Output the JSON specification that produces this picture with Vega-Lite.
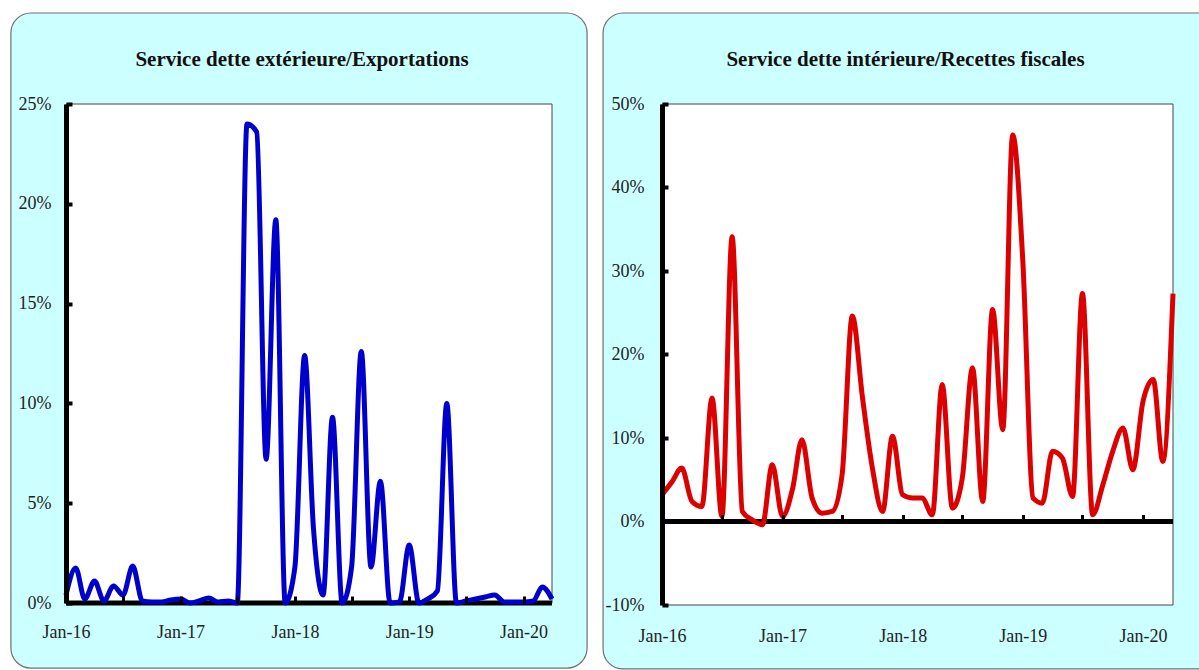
{
  "$schema": "https://vega.github.io/schema/vega-lite/v6.json",
  "background": "white",
  "padding": {"left": 10, "top": 12, "right": 0, "bottom": 0},
  "spacing": 14,
  "config": {"view": {"stroke": null}, "axis": {"labelFont": "Liberation Serif", "titleFont": "Liberation Serif", "grid": false}},
  "datasets": {
    "ext": [
      {"date": "2016-01-01", "v": 0.004}, {"date": "2016-02-01", "v": 0.0175}, {"date": "2016-03-01", "v": 0.002}, {"date": "2016-04-01", "v": 0.011},
      {"date": "2016-05-01", "v": 0.001}, {"date": "2016-06-01", "v": 0.0085}, {"date": "2016-07-01", "v": 0.004}, {"date": "2016-08-01", "v": 0.0185},
      {"date": "2016-09-01", "v": 0.001}, {"date": "2016-10-01", "v": 0.0005}, {"date": "2016-11-01", "v": 0.0005}, {"date": "2016-12-01", "v": 0.0015},
      {"date": "2017-01-01", "v": 0.002}, {"date": "2017-02-01", "v": 0.0}, {"date": "2017-03-01", "v": 0.001}, {"date": "2017-04-01", "v": 0.0025},
      {"date": "2017-05-01", "v": 0.0005}, {"date": "2017-06-01", "v": 0.001}, {"date": "2017-07-01", "v": 0.0}, {"date": "2017-08-01", "v": 0.24},
      {"date": "2017-09-01", "v": 0.236}, {"date": "2017-10-01", "v": 0.072}, {"date": "2017-11-01", "v": 0.192}, {"date": "2017-12-01", "v": 0.0},
      {"date": "2018-01-01", "v": 0.018}, {"date": "2018-02-01", "v": 0.124}, {"date": "2018-03-01", "v": 0.038}, {"date": "2018-04-01", "v": 0.004},
      {"date": "2018-05-01", "v": 0.093}, {"date": "2018-06-01", "v": 0.0}, {"date": "2018-07-01", "v": 0.018}, {"date": "2018-08-01", "v": 0.126},
      {"date": "2018-09-01", "v": 0.018}, {"date": "2018-10-01", "v": 0.061}, {"date": "2018-11-01", "v": 0.0}, {"date": "2018-12-01", "v": 0.0005},
      {"date": "2019-01-01", "v": 0.029}, {"date": "2019-02-01", "v": 0.0}, {"date": "2019-03-01", "v": 0.002}, {"date": "2019-04-01", "v": 0.006},
      {"date": "2019-05-01", "v": 0.1}, {"date": "2019-06-01", "v": 0.0}, {"date": "2019-07-01", "v": 0.001}, {"date": "2019-08-01", "v": 0.002},
      {"date": "2019-09-01", "v": 0.003}, {"date": "2019-10-01", "v": 0.004}, {"date": "2019-11-01", "v": 0.0005}, {"date": "2019-12-01", "v": 0.0005},
      {"date": "2020-01-01", "v": 0.0005}, {"date": "2020-02-01", "v": 0.001}, {"date": "2020-03-01", "v": 0.008}, {"date": "2020-04-01", "v": 0.002}
    ],
    "int": [
      {"date": "2016-01-01", "v": 0.032}, {"date": "2016-02-01", "v": 0.048}, {"date": "2016-03-01", "v": 0.064}, {"date": "2016-04-01", "v": 0.024},
      {"date": "2016-05-01", "v": 0.018}, {"date": "2016-06-01", "v": 0.148}, {"date": "2016-07-01", "v": 0.006}, {"date": "2016-08-01", "v": 0.341},
      {"date": "2016-09-01", "v": 0.012}, {"date": "2016-10-01", "v": 0.002}, {"date": "2016-11-01", "v": -0.004}, {"date": "2016-12-01", "v": 0.068},
      {"date": "2017-01-01", "v": 0.006}, {"date": "2017-02-01", "v": 0.04}, {"date": "2017-03-01", "v": 0.098}, {"date": "2017-04-01", "v": 0.028},
      {"date": "2017-05-01", "v": 0.01}, {"date": "2017-06-01", "v": 0.012}, {"date": "2017-07-01", "v": 0.056}, {"date": "2017-08-01", "v": 0.246},
      {"date": "2017-09-01", "v": 0.148}, {"date": "2017-10-01", "v": 0.064}, {"date": "2017-11-01", "v": 0.012}, {"date": "2017-12-01", "v": 0.102},
      {"date": "2018-01-01", "v": 0.032}, {"date": "2018-02-01", "v": 0.028}, {"date": "2018-03-01", "v": 0.028}, {"date": "2018-04-01", "v": 0.008},
      {"date": "2018-05-01", "v": 0.164}, {"date": "2018-06-01", "v": 0.016}, {"date": "2018-07-01", "v": 0.052}, {"date": "2018-08-01", "v": 0.184},
      {"date": "2018-09-01", "v": 0.024}, {"date": "2018-10-01", "v": 0.254}, {"date": "2018-11-01", "v": 0.11}, {"date": "2018-12-01", "v": 0.463},
      {"date": "2019-01-01", "v": 0.311}, {"date": "2019-02-01", "v": 0.028}, {"date": "2019-03-01", "v": 0.022}, {"date": "2019-04-01", "v": 0.084},
      {"date": "2019-05-01", "v": 0.076}, {"date": "2019-06-01", "v": 0.03}, {"date": "2019-07-01", "v": 0.273}, {"date": "2019-08-01", "v": 0.008},
      {"date": "2019-09-01", "v": 0.044}, {"date": "2019-10-01", "v": 0.084}, {"date": "2019-11-01", "v": 0.112}, {"date": "2019-12-01", "v": 0.062},
      {"date": "2020-01-01", "v": 0.144}, {"date": "2020-02-01", "v": 0.17}, {"date": "2020-03-01", "v": 0.072}, {"date": "2020-04-01", "v": 0.273}
    ]
  },
  "hconcat": [
    {
      "width": 486,
      "height": 499,
      "resolve": {"axis": {"x": "independent", "y": "independent"}},
      "layer": [
        {
          "data": {"values": [{}]},
          "mark": {"type": "rect", "fill": "#CCFFFF", "stroke": "#707070", "strokeWidth": 1.2, "cornerRadius": 20, "clip": false},
          "encoding": {
            "x": {"datum": {"year": 2015, "month": 7, "date": 9, "utc": true}, "type": "temporal", "axis": null,
                  "scale": {"type": "utc", "nice": false, "domain": [{"year": 2016, "month": 1, "date": 1, "utc": true}, {"year": 2020, "month": 4, "date": 1, "utc": true}]}},
            "x2": {"datum": {"year": 2020, "month": 7, "date": 22, "utc": true}},
            "y": {"datum": 0.2956, "type": "quantitative", "axis": null, "scale": {"domain": [0, 0.25], "nice": false, "zero": false}},
            "y2": {"datum": -0.0326}
          }
        },
        {
          "data": {"values": [{}]},
          "mark": {"type": "rect", "fill": "white", "stroke": "#444444", "strokeWidth": 1},
          "encoding": {
            "x": {"datum": {"year": 2016, "month": 1, "date": 1, "utc": true}, "type": "temporal",
                  "scale": {"type": "utc", "nice": false, "domain": [{"year": 2016, "month": 1, "date": 1, "utc": true}, {"year": 2020, "month": 4, "date": 1, "utc": true}]},
                  "axis": {"orient": "top", "title": "Service dette extérieure/Exportations", "titleFont": "Liberation Serif", "titleFontSize": 21, "titleFontWeight": "bold", "titleColor": "#111111", "titlePadding": 39, "titleBaseline": "alphabetic", "titleX": 235.5, "labels": false, "ticks": false, "domain": false, "zindex": 1}},
            "x2": {"datum": {"year": 2020, "month": 4, "date": 1, "utc": true}},
            "y": {"datum": 0.25, "type": "quantitative", "axis": null, "scale": {"domain": [0, 0.25], "nice": false, "zero": false}},
            "y2": {"datum": 0}
          }
        },
        {
          "data": {"values": [{}]},
          "mark": {"type": "rule", "color": "black", "strokeWidth": 5},
          "encoding": {
            "x": {"datum": {"year": 2016, "month": 1, "date": 1, "utc": true}, "type": "temporal", "axis": null,
                  "scale": {"type": "utc", "nice": false, "domain": [{"year": 2016, "month": 1, "date": 1, "utc": true}, {"year": 2020, "month": 4, "date": 1, "utc": true}]}},
            "x2": {"datum": {"year": 2020, "month": 4, "date": 1, "utc": true}},
            "y": {"datum": 0, "type": "quantitative", "axis": null, "scale": {"domain": [0, 0.25], "nice": false, "zero": false}}
          }
        },
        {
          "data": {"name": "ext"},
          "mark": {"type": "line", "color": "#0000CC", "strokeWidth": 5, "interpolate": "monotone"},
          "encoding": {
            "x": {"field": "date", "type": "temporal",
                  "scale": {"type": "utc", "nice": false, "domain": [{"year": 2016, "month": 1, "date": 1, "utc": true}, {"year": 2020, "month": 4, "date": 1, "utc": true}]},
                  "axis": {"orient": "bottom", "title": null, "domain": false, "ticks": true, "tickSize": -7, "tickWidth": 3, "tickColor": "black",
                           "values": [{"year": 2016, "month": 1, "date": 1, "utc": true}, {"year": 2016, "month": 7, "date": 1, "utc": true}, {"year": 2017, "month": 1, "date": 1, "utc": true}, {"year": 2017, "month": 7, "date": 1, "utc": true}, {"year": 2018, "month": 1, "date": 1, "utc": true}, {"year": 2018, "month": 7, "date": 1, "utc": true}, {"year": 2019, "month": 1, "date": 1, "utc": true}, {"year": 2019, "month": 7, "date": 1, "utc": true}, {"year": 2020, "month": 1, "date": 1, "utc": true}],
                           "labelExpr": "utcmonth(datum.value) == 0 ? utcFormat(datum.value, '%b-%y') : ''",
                           "labelFontSize": 18, "labelColor": "#222222", "labelPadding": 27, "labelFlush": false, "labelOverlap": false, "zindex": 1}},
            "y": {"field": "v", "type": "quantitative",
                  "scale": {"domain": [0, 0.25], "nice": false, "zero": false},
                  "axis": {"orient": "left", "title": null, "values": [0, 0.05, 0.1, 0.15, 0.2, 0.25], "labelExpr": "round(datum.value*100) + '%'",
                           "domain": true, "domainColor": "black", "domainWidth": 5, "ticks": true, "tickColor": "black", "tickWidth": 4, "tickSize": -6,
                           "labelFontSize": 18, "labelColor": "#222222", "labelPadding": 21, "labelFlush": false, "zindex": 1}}
          }
        }
      ]
    },
    {
      "width": 511,
      "height": 501,
      "resolve": {"axis": {"x": "independent", "y": "independent"}},
      "layer": [
        {
          "data": {"values": [{}]},
          "mark": {"type": "rect", "fill": "#CCFFFF", "stroke": "#707070", "strokeWidth": 1.2, "cornerRadius": 20, "clip": false},
          "encoding": {
            "x": {"datum": {"year": 2015, "month": 7, "date": 6, "utc": true}, "type": "temporal", "axis": null,
                  "scale": {"type": "utc", "nice": false, "domain": [{"year": 2016, "month": 1, "date": 1, "utc": true}, {"year": 2020, "month": 4, "date": 1, "utc": true}]}},
            "x2": {"datum": {"year": 2020, "month": 9, "date": 1, "utc": true}},
            "y": {"datum": 0.609, "type": "quantitative", "axis": null, "scale": {"domain": [-0.1, 0.5], "nice": false, "zero": false}},
            "y2": {"datum": -0.1766}
          }
        },
        {
          "data": {"values": [{}]},
          "mark": {"type": "rect", "fill": "white", "stroke": "#444444", "strokeWidth": 1},
          "encoding": {
            "x": {"datum": {"year": 2016, "month": 1, "date": 1, "utc": true}, "type": "temporal",
                  "scale": {"type": "utc", "nice": false, "domain": [{"year": 2016, "month": 1, "date": 1, "utc": true}, {"year": 2020, "month": 4, "date": 1, "utc": true}]},
                  "axis": {"orient": "top", "title": "Service dette intérieure/Recettes fiscales", "titleFont": "Liberation Serif", "titleFontSize": 21, "titleFontWeight": "bold", "titleColor": "#111111", "titlePadding": 39, "titleBaseline": "alphabetic", "titleX": 243, "labels": false, "ticks": false, "domain": false, "zindex": 1}},
            "x2": {"datum": {"year": 2020, "month": 4, "date": 1, "utc": true}},
            "y": {"datum": 0.5, "type": "quantitative", "axis": null, "scale": {"domain": [-0.1, 0.5], "nice": false, "zero": false}},
            "y2": {"datum": -0.1}
          }
        },
        {
          "data": {"values": [{}]},
          "mark": {"type": "rule", "color": "black", "strokeWidth": 5},
          "encoding": {
            "x": {"datum": {"year": 2016, "month": 1, "date": 1, "utc": true}, "type": "temporal",
                  "scale": {"type": "utc", "nice": false, "domain": [{"year": 2016, "month": 1, "date": 1, "utc": true}, {"year": 2020, "month": 4, "date": 1, "utc": true}]},
                  "axis": {"orient": "bottom", "offset": -83.5, "title": null, "domain": false, "labels": false, "ticks": true, "tickSize": -7, "tickWidth": 3, "tickColor": "black", "zindex": 1,
                           "values": [{"year": 2016, "month": 1, "date": 1, "utc": true}, {"year": 2016, "month": 7, "date": 1, "utc": true}, {"year": 2017, "month": 1, "date": 1, "utc": true}, {"year": 2017, "month": 7, "date": 1, "utc": true}, {"year": 2018, "month": 1, "date": 1, "utc": true}, {"year": 2018, "month": 7, "date": 1, "utc": true}, {"year": 2019, "month": 1, "date": 1, "utc": true}, {"year": 2019, "month": 7, "date": 1, "utc": true}, {"year": 2020, "month": 1, "date": 1, "utc": true}]}},
            "x2": {"datum": {"year": 2020, "month": 4, "date": 1, "utc": true}},
            "y": {"datum": 0, "type": "quantitative", "axis": null, "scale": {"domain": [-0.1, 0.5], "nice": false, "zero": false}}
          }
        },
        {
          "data": {"name": "int"},
          "mark": {"type": "line", "color": "#DD0000", "strokeWidth": 5, "interpolate": "monotone"},
          "encoding": {
            "x": {"field": "date", "type": "temporal",
                  "scale": {"type": "utc", "nice": false, "domain": [{"year": 2016, "month": 1, "date": 1, "utc": true}, {"year": 2020, "month": 4, "date": 1, "utc": true}]},
                  "axis": {"orient": "bottom", "title": null, "domain": false, "ticks": false,
                           "values": [{"year": 2016, "month": 1, "date": 1, "utc": true}, {"year": 2017, "month": 1, "date": 1, "utc": true}, {"year": 2018, "month": 1, "date": 1, "utc": true}, {"year": 2019, "month": 1, "date": 1, "utc": true}, {"year": 2020, "month": 1, "date": 1, "utc": true}],
                           "labelExpr": "utcFormat(datum.value, '%b-%y')",
                           "labelFontSize": 18, "labelColor": "#222222", "labelPadding": 22, "labelFlush": false, "labelOverlap": false, "zindex": 1}},
            "y": {"field": "v", "type": "quantitative",
                  "scale": {"domain": [-0.1, 0.5], "nice": false, "zero": false},
                  "axis": {"orient": "left", "title": null, "values": [-0.1, 0, 0.1, 0.2, 0.3, 0.4, 0.5], "labelExpr": "round(datum.value*100) + '%'",
                           "domain": true, "domainColor": "black", "domainWidth": 5, "ticks": true, "tickColor": "black", "tickWidth": 4, "tickSize": -6,
                           "labelFontSize": 18, "labelColor": "#222222", "labelPadding": 24, "labelFlush": false, "zindex": 1}}
          }
        }
      ]
    }
  ]
}
